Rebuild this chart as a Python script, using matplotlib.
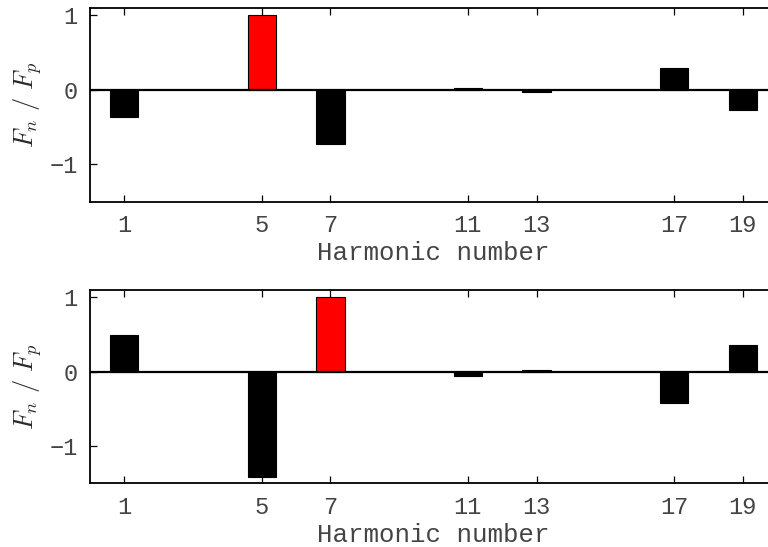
import numpy as np
import matplotlib
matplotlib.use("Agg")
import matplotlib.pyplot as plt

# harmonic numbers and normalised amplitudes F_n / F_p
harmonics = [1, 5, 7, 11, 13, 17, 19]
top_vals = [-0.36, 1.0, -0.73, 0.03, -0.03, 0.30, -0.27]
bottom_vals = [0.49, -1.41, 1.0, -0.05, 0.03, -0.42, 0.36]
top_fund = 5
bottom_fund = 7

plt.rcParams['font.family'] = ['Liberation Mono', 'DejaVu Sans']
plt.rcParams['mathtext.fontset'] = 'cm'


def draw_panel(ax, vals, fund):
    x = np.array(harmonics)
    colors = ['red' if h == fund else 'black' for h in harmonics]
    ax.bar(x, vals, width=0.82, color=colors, edgecolor='black', linewidth=0.8, zorder=2)
    ax.axhline(0, color='black', linewidth=1.6, zorder=3)
    ax.set_xlim(0, 20)
    ax.set_ylim(-1.5, 1.1)
    ax.set_xticks(harmonics)
    ax.set_yticks([-1, 0, 1])
    ax.set_yticklabels(['\u22121', '0', '1'])
    ax.tick_params(direction='in', length=5, width=0.9, top=True, right=False,
                   labelsize=17, labelcolor='#444444', pad=9)
    ax.spines['right'].set_visible(False)
    for s in ['left', 'top', 'bottom']:
        ax.spines[s].set_linewidth(1.3)
    ax.set_xlabel('Harmonic number', fontsize=18.5, color='#444444', labelpad=3)
    ax.set_ylabel(r'$F_n\ /\ F_p$', fontsize=19, color='#2a2a2a', labelpad=4)


fig = plt.figure(figsize=(7.68, 5.47), dpi=100)
ax1 = fig.add_axes([0.1172, 0.6313, 0.8945, 0.3541])
ax2 = fig.add_axes([0.1172, 0.1164, 0.8945, 0.3534])
draw_panel(ax1, top_vals, top_fund)
draw_panel(ax2, bottom_vals, bottom_fund)

fig.savefig('out.png', dpi=100)
